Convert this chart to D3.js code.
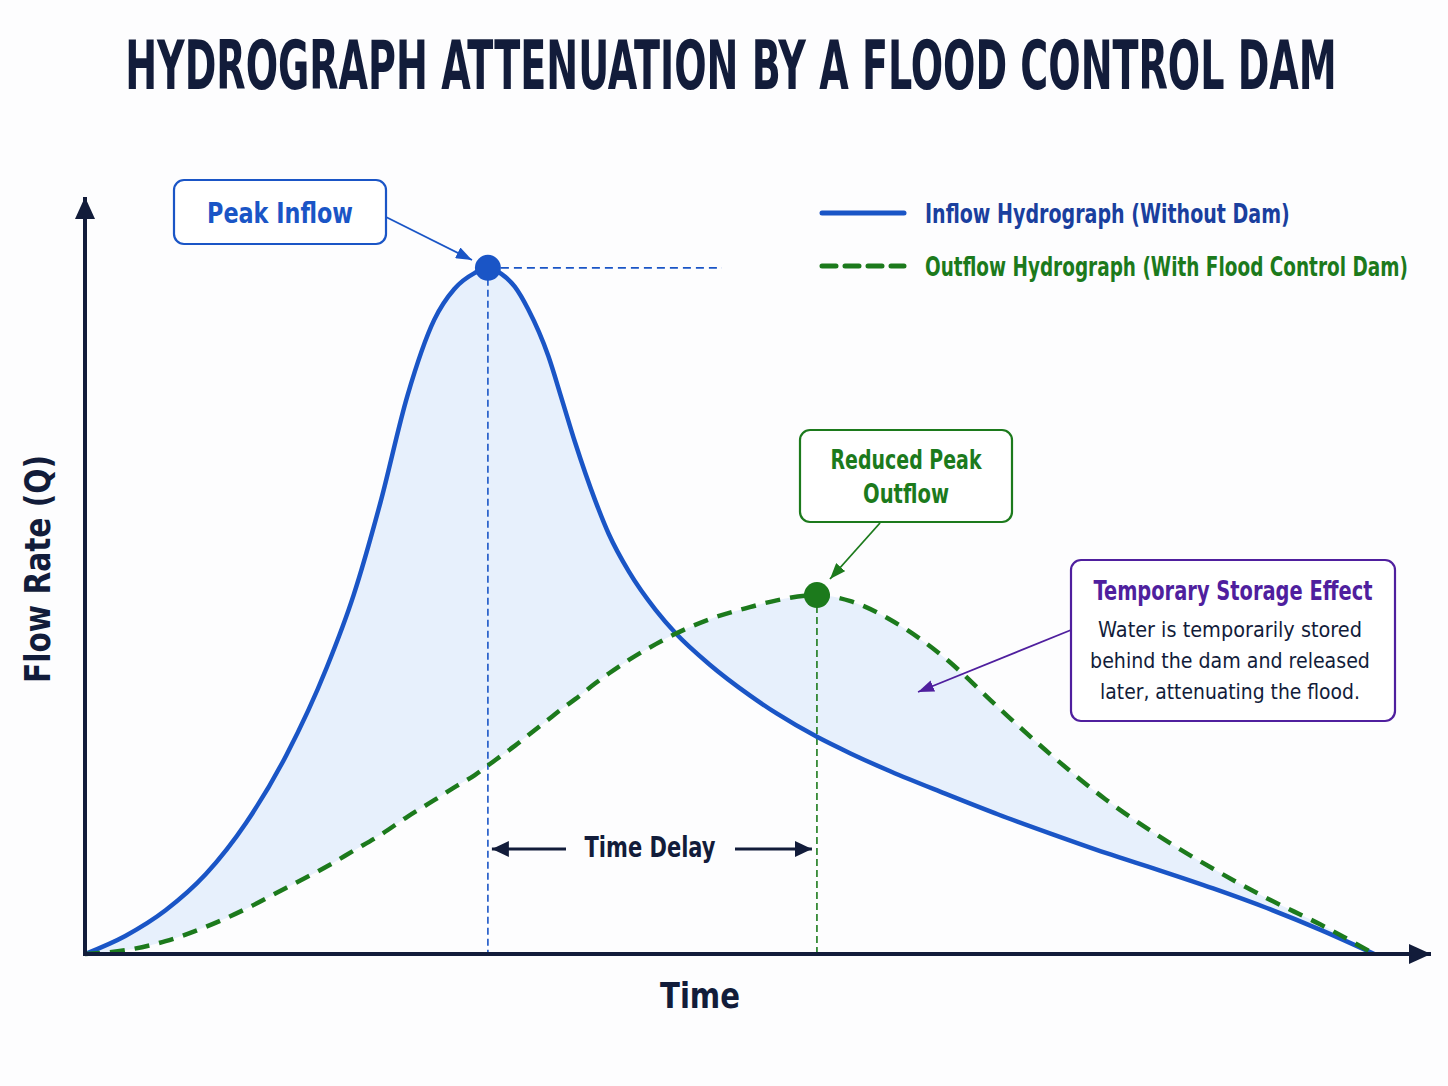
<!DOCTYPE html>
<html>
<head>
<meta charset="utf-8">
<script src="https://cdn.jsdelivr.net/npm/d3@7"></script>
<style>
  body { margin: 0; background: #fdfdfe; }
  svg { display: block; }
</style>
</head>
<body>
<div class="chart"></div>
<script>
// Time (arbitrary units) and flow rate Q.
const time    = [0, 3, 6, 9, 12, 15, 18, 20, 22, 24, 26, 27.5, 29, 30, 31, 32, 33, 34.5, 35.5, 36.5, 38, 39, 40.5, 42.5, 44, 46.5, 49.5, 51.5, 54.5, 57, 60, 64, 68, 72, 76, 80, 84, 88, 92, 96];
const inflow  = [0, 2.4, 5.8, 10.6, 17.4, 26.4, 38.0, 47.6, 59.9, 74.0, 84.1, 88.2, 90.3, 91.0, 90.2, 88.5, 85.5, 79.3, 73.6, 67.8, 60.1, 55.7, 50.7, 45.6, 42.5, 38.4, 34.3, 31.9, 28.8, 26.6, 24.2, 21.3, 18.5, 15.9, 13.4, 11.1, 8.7, 6.1, 3.2, 0];
const outflow = [0, 0.5, 1.7, 3.6, 6.0, 8.8, 11.6, 13.7, 15.8, 18.2, 20.4, 22.1, 23.7, 25.0, 26.3, 27.6, 29.0, 31.1, 32.5, 33.8, 35.9, 37.2, 39.0, 41.1, 42.5, 44.4, 46.0, 46.9, 47.6, 46.8, 44.3, 39.3, 32.7, 26.3, 20.5, 15.6, 11.3, 7.4, 3.9, 0];

const seriesNames = ["Inflow Hydrograph (Without Dam)", "Outflow Hydrograph (With Flood Control Dam)"];
const titleText = "HYDROGRAPH ATTENUATION BY A FLOOD CONTROL DAM";
const outflowLabel = ["Reduced Peak", "Outflow"];
const storageLines = ["Water is temporarily stored", "behind the dam and released", "later, attenuating the flood."];

const width = 1448, height = 1086;
const navy = "#121c3a", blue = "#1a55c6", green = "#1c7a1c", purple = "#4f1f9e";
const font = "'DejaVu Sans Condensed', 'DejaVu Sans', sans-serif";

const data = time.map((t, i) => ({ t, inQ: inflow[i], outQ: outflow[i] }));

const svg = d3.select(".chart").append("svg")
  .attr("width", width)
  .attr("height", height)
  .style("font-family", font);

svg.append("rect").attr("width", width).attr("height", height).attr("fill", "#fdfdfe");

// Arrow markers.
const defs = svg.append("defs");
function marker(id, color, w, h) {
  defs.append("marker")
    .attr("id", id)
    .attr("viewBox", `0 0 ${w} ${h}`)
    .attr("refX", w).attr("refY", h / 2)
    .attr("markerWidth", w).attr("markerHeight", h)
    .attr("markerUnits", "userSpaceOnUse")
    .attr("orient", "auto")
    .append("path")
    .attr("d", `M0,0L${w},${h / 2}L0,${h}Z`)
    .attr("fill", color);
}
marker("arrBlue", blue, 16, 12);
marker("arrGreen", green, 16, 12);
marker("arrPurple", purple, 16, 12);
marker("arrNavy", navy, 17, 16);
marker("axisArrow", navy, 22, 20);

// Scales.
const x = d3.scaleLinear().domain([0, 100]).range([85, 1428]);
const y = d3.scaleLinear().domain([0, 100]).range([954, 200]);

// Text helper: the reference font is condensed, so squeeze horizontally to the measured width.
function label(px, py, str, size, weight, color, w, anchor = "middle", rotate = 0) {
  const t = svg.append("text")
    .attr("text-anchor", anchor)
    .attr("font-size", size)
    .attr("font-weight", weight)
    .attr("fill", color)
    .text(str);
  const sx = Math.min(1, w / t.node().getComputedTextLength());
  t.attr("transform", `translate(${px},${py}) rotate(${rotate}) scale(${sx},1)`);
  return t;
}

// Title.
label(731, 89, titleText, 68, "bold", navy, 1212);

// Storage area between the two hydrographs.
const area = d3.area()
  .x(d => x(d.t))
  .y0(d => y(d.outQ))
  .y1(d => y(d.inQ))
  .curve(d3.curveMonotoneX);
svg.append("path").datum(data).attr("d", area).attr("fill", "#e7f0fc");

// Peak reference lines.
const inPeak = data[d3.maxIndex(data, d => d.inQ)];
const outPeak = data[d3.maxIndex(data, d => d.outQ)];
svg.append("line")
  .attr("x1", x(inPeak.t)).attr("x2", x(inPeak.t))
  .attr("y1", y(inPeak.inQ)).attr("y2", y(0))
  .attr("stroke", blue).attr("stroke-width", 1.6).attr("stroke-dasharray", "7,4");
svg.append("line")
  .attr("x1", x(inPeak.t)).attr("x2", 722)
  .attr("y1", y(inPeak.inQ)).attr("y2", y(inPeak.inQ))
  .attr("stroke", blue).attr("stroke-width", 1.6).attr("stroke-dasharray", "8,5");
svg.append("line")
  .attr("x1", x(outPeak.t)).attr("x2", x(outPeak.t))
  .attr("y1", y(outPeak.outQ)).attr("y2", y(0))
  .attr("stroke", green).attr("stroke-width", 1.6).attr("stroke-dasharray", "7,4");

// Hydrograph lines.
const inLine = d3.line().x(d => x(d.t)).y(d => y(d.inQ)).curve(d3.curveMonotoneX);
const outLine = d3.line().x(d => x(d.t)).y(d => y(d.outQ)).curve(d3.curveMonotoneX);
svg.append("path").datum(data).attr("d", inLine)
  .attr("fill", "none").attr("stroke", blue).attr("stroke-width", 4.5);
svg.append("path").datum(data).attr("d", outLine)
  .attr("fill", "none").attr("stroke", green).attr("stroke-width", 4.5)
  .attr("stroke-dasharray", "15,10");

// Axes with arrow heads.
svg.append("line")
  .attr("x1", x(0)).attr("y1", y(0)).attr("x2", x(0)).attr("y2", 197)
  .attr("stroke", navy).attr("stroke-width", 4)
  .attr("marker-end", "url(#axisArrow)");
svg.append("line")
  .attr("x1", x(0) - 2).attr("y1", y(0)).attr("x2", 1431).attr("y2", y(0))
  .attr("stroke", navy).attr("stroke-width", 4)
  .attr("marker-end", "url(#axisArrow)");

// Axis titles.
label(50, 569, "Flow Rate (Q)", 35, "bold", navy, 228, "middle", -90);
label(700, 1008, "Time", 36, "bold", navy, 80);

// Peak markers.
svg.append("circle").attr("cx", x(inPeak.t)).attr("cy", y(inPeak.inQ)).attr("r", 13).attr("fill", blue);
svg.append("circle").attr("cx", x(outPeak.t)).attr("cy", y(outPeak.outQ)).attr("r", 13).attr("fill", green);

// Callout boxes.
function box(x0, y0, w, h, color) {
  svg.append("rect")
    .attr("x", x0).attr("y", y0).attr("width", w).attr("height", h)
    .attr("rx", 10)
    .attr("fill", "#ffffff").attr("stroke", color).attr("stroke-width", 2.2);
}
function arrow(x1, y1, x2, y2, color, id, sw = 1.8) {
  svg.append("line")
    .attr("x1", x1).attr("y1", y1).attr("x2", x2).attr("y2", y2)
    .attr("stroke", color).attr("stroke-width", sw)
    .attr("marker-end", `url(#${id})`);
}

box(174, 180, 212, 64, blue);
label(280, 223, "Peak Inflow", 29, "bold", blue, 146);
arrow(386, 217, 472, 260, blue, "arrBlue");

box(800, 430, 212, 92, green);
label(906, 469, outflowLabel[0], 27, "bold", green, 151);
label(906, 503, outflowLabel[1], 27, "bold", green, 86);
arrow(880, 523, 830, 579, green, "arrGreen");

box(1071, 560, 324, 161, purple);
label(1233, 600, "Temporary Storage Effect", 27, "bold", purple, 279);
const bodyWidths = [264, 280, 260];
storageLines.forEach((s, i) => label(1230, 637 + i * 31, s, 22, "normal", navy, bodyWidths[i]));
arrow(1071, 630, 918, 692, purple, "arrPurple");

// Time delay annotation.
label(650, 857, "Time Delay", 28, "bold", navy, 131);
arrow(566, 849, x(inPeak.t) + 4, 849, navy, "arrNavy", 3);
arrow(735, 849, x(outPeak.t) - 5, 849, navy, "arrNavy", 3);

// Legend.
const legendRows = [
  { name: seriesNames[0], color: blue, text: "#1a3f9e", dash: null, w: 365 },
  { name: seriesNames[1], color: green, text: green, dash: "14,9", w: 483 }
];
legendRows.forEach((r, i) => {
  const ly = 213 + i * 53;
  svg.append("line")
    .attr("x1", 822).attr("x2", 904).attr("y1", ly).attr("y2", ly)
    .attr("stroke", r.color).attr("stroke-width", 5)
    .attr("stroke-linecap", "round")
    .attr("stroke-dasharray", r.dash);
  label(925, ly + 10, r.name, 27, "bold", r.text, r.w, "start");
});
</script>
</body>
</html>
